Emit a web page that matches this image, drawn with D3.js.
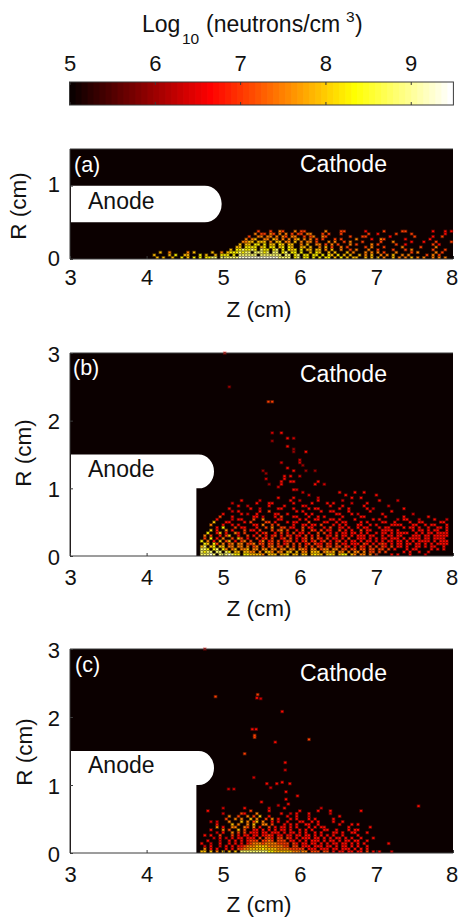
<!DOCTYPE html>
<html>
<head>
<meta charset="utf-8">
<script src="https://cdn.jsdelivr.net/npm/d3@7"></script>
<style>
body { margin: 0; background: #fff; }
svg { display: block; font-family: "Liberation Sans", Arial, sans-serif; }
</style>
</head>
<body>
<svg id="chart" width="458" height="917"></svg>
<script>
// log10 value for each digit used in the density rows below ("." = nothing there)
var heatLevels = [5, 6.0, 6.4, 6.7, 7.1, 7.5, 7.9, 8.3, 8.8, 9.3];
var colorTicks = [5, 6, 7, 8, 9];

// density rows, top row first, last row sits on R = 0
var rowsA = [
"...................................4...4..54...5.44......5....44......3.....4.....44........3...3.3..",
"..................................5.44.54.5.5.4.44.55...4.4...4........4..3.....4....4..........3....",
"................................4..55.55.5.54.55..4.45..54.......4...44.......3.......4.....3..4.....",
"...............................5.56..55.65.5.5.56.5.5.4.4...4.4....5....3..54......3.......3........",
"..............................5566.666.5.66.55.6.5.55.4...5.5..4.5...4.....4...5.....3...3...4....4..",
".............................6.66.77.7.66.76.66..5.6..55.4.5.4...5.4....5.4.....4..3........4.3......",
"............................66.7777.67.77.67.76..66.6..5.6.4..5.4.....4.5...4.....5.....4....5.......",
"..........................6.7787787.877.78.7.767.7.66.66.5.6..5..4.5...5..4....4...4.5......4...4....",
"...6..5.....5.6.....6..5.67778788.88878.88.78.77.7..6.76..6.6...6.5...5.5.5.4...5....4.5.....5.4....",
".6....6.7..66...7.6..6.777.7.888888.8888888.88.78.77.77.7.76.7.6.6..6.5.6..5.5.6..5.5.....4.5.4.....",
"..6.6..6..7.6.7.7.7788.88888899999999999998888.78.77.7.7.77.6.7.6.66..6.6.6.5..6.5.5.6.5.5..5.5.5..."
];

var rowsB = [
"........................2..3",
"",
".............................3.2",
"........................1",
"",
".............................3",
"...............................1",
"...............................1...3",
"",
"",
".................................2",
"...........................2.....2",
"..................................1",
".............................3",
".....................1.........3...1..1",
"......................1",
"............................3.3..2",
"......................2.....3",
"...........................3..33.......3",
".......................1...3..........3..2",
"..........................2",
"...............................32",
"..................................2...........3....3..3",
"....................................2...........3.........3",
"..........................3....3.......2..........3..3",
"..............3.....2.........3..2.....3.......2...........3.....2",
"...........2.......3...33......3.....3....3.3.....2....3",
".............3..2......3....3.....32.......3...3......3.......2",
"..........3......3..2.....33...3....3.33......3..3.....3.2.........3",
"...........2.3......3..4........3.3.....3..33....3......3......3",
"........3.....3.2..3.....33..3.....3.3.......33...3.2.......3.........2",
".......4...3......33.2...3.4...33...3..3.3.....3.....33......3.....3.......3",
"......3....2.33...4..5....33.....3.3..33...33.3....3.....3.3.....2.33...2....3...2",
".....6...33....3.4....44.3...3.33...4....33..3.33....3.3....33..3....3..33.....33",
"....5...3..3.3....33.5..4.4....3..33.33.4...3.3.3...33..3.3....3333...33..3.33...3",
"......3.7...4.33...3..4.5..44.33..4.33...3.4..33.3..3.33...3.33....3.33.3..3..33.3",
"....6.3..5.3...4.33.4...4.45.4..3.4..43.4.33..4.3.3..4.33...3333.3....3.33.3.33..3",
"...7..36.3..53.4...3.34..3.4.3.4.33.3..4.4.3.3.33.33.3.3..3.33.3.3333..3.3.33.3333",
"..5.4..3.46..3..4.3.4.3.34.3.43.33.4.3.4..33.4.33.3.333.33..3.33.33...333.33.33333",
"..4.7.3.5..4.64.3..4.34.4..34.4.3.34.4.43.4.33.3.4..333.3.3.33.333.3.3333.33.3333.",
".7.5.3.6.46.3.45.4..35.34.4.344.3.34.34.34.3.34.3.33.3.33.3.3.33.33.3.3.3333.3.333",
"..76.74.5.45.55.445.44.44.4.34.4.4.34.433.43.4.33.333.43.3.343.3.33.33.33.3.3.3333",
".68.67.66.55.55.5.45.4.45.44.5.4.4.4.4.44.44.44.43.3.43.4.4.43.4.33.3..33.3.33..3.",
".887.78.75.56.556.55.55.55.55.55.554.55.455.55.44.44.44.44.44.4.3...3.33....3.3.3",
".8788.88.87.66.6655.5.665.55.66.6.55.666.5656.55.5.55.5.44.4.4.....3.3..3..3.....",
".88898.8889877.7766665.666.667.66.66.6766.676.677.65.55.5.4....3.3...3....2......"
];

var rowsC = [
"........2......3.......2....3...........2",
"...3.............4.....3.........3.....3...3.........3",
"........2.....43...5.......3..2.3...3......2",
"..........5..4..5.4.6..3.....3..3...2.........3",
".........4..5.5..6.5..4.5.3...3.3...3.3.....3",
"....2.2...5...6.5.46.5..3.3..3...33..3.3....3..3",
"......3....6.5..5.6..55.4...3.3.3..33..3......3...3.3..",
"......5.3..55..54.5.3..4.3.33.3.3...3.3.33.......3......3",
"....3...5.4..6.4..33.3.3.3.33.3..3.3.3...33..3...3.33",
"......2.3..5.4.4.333.33.333.3.33.3.3..3.3...33.3..33...3",
"..3.3..4...4.3.33.33.3343.33.33.33.33.3.3.3.3..3....3",
".....2.3.2.3.33.333.4.443.44.43.3.333.33.3.3.33.3.3..3...3",
"...3...2..3.3.3.3444.4454.444.33.3.3.333.3.33.3.33.33..3",
".3..2..3..3.3.3.34555455554444.43.33.33.3.3.33.33.3.3.3.......3",
"..2.3..2.3.3.33455566665555544.44.333.333.33.3.33.3.3..3",
"..5.3.3..3.3.4455666676666555544444.333.333.33.333.3.3.3..",
".66.6.5.6.6.6.8888888887766666655555.444.44.3.33.33.33.4.3.3...2"
];

// stray cells above the rows: [z, r, level]
var outliersB = [[5.0, 2.98, 3], [5.06, 2.48, 1], [5.57, 2.26, 4], [5.62, 2.26, 4]];
var outliersC = [[4.74, 2.98, 2], [4.88, 2.28, 4], [5.43, 2.31, 4], [5.42, 2.26, 3], [5.47, 2.25, 2], [5.75, 2.06, 3],
    [5.36, 1.8, 3], [5.41, 1.8, 3], [5.39, 1.71, 4], [5.39, 1.68, 4], [5.66, 1.61, 3], [6.1, 1.65, 4], [5.26, 1.44, 4],
    [5.79, 1.31, 3], [5.79, 1.2, 2], [5.38, 1.09, 2], [5.55, 1.0, 3], [5.68, 1.0, 3], [5.75, 1.02, 3], [5.85, 1.0, 3],
    [5.6, 0.94, 2], [5.05, 0.92, 2], [5.12, 0.92, 2], [5.8, 0.88, 3], [5.95, 0.82, 3], [5.8, 0.77, 3], [5.83, 0.7, 3],
    [5.48, 0.73, 3], [5.7, 0.68, 2], [7.53, 0.67, 3]];

var panels = [
    {label: "(a)", rows: rowsA, outliers: [], rMax: 1.5, yTicks: [0, 1], top: 149, bottom: 259, z0: 4.04, dr: 0.036,
     anode: {rTop: 1, rBottom: 0.5, tipStart: 4.76, tip: 4.98, body: null},
     labelY: 172, cathodeY: 172, anodeY: 209, tickY: 285, zLabelY: 317, rLabelX: 26, rLabelY: 206, yTickDy: 6, labelX: 74},
    {label: "(b)", rows: rowsB, outliers: outliersB, rMax: 3, yTicks: [0, 1, 2, 3], top: 353, bottom: 556, z0: 4.66, dr: 0.04,
     anode: {rTop: 1.5, rBottom: 1, tipStart: 4.68, tip: 4.88, body: 4.65},
     labelY: 375, cathodeY: 382, anodeY: 477, tickY: 585, zLabelY: 616, rLabelX: 31, rLabelY: 453, yTickDy: 8, labelX: 73},
    {label: "(c)", rows: rowsC, outliers: outliersC, rMax: 3, yTicks: [0, 1, 2, 3], top: 649, bottom: 853, z0: 4.66, dr: 0.04,
     anode: {rTop: 1.5, rBottom: 1, tipStart: 4.68, tip: 4.88, body: 4.65},
     labelY: 672, cathodeY: 681, anodeY: 773, tickY: 882, zLabelY: 912, rLabelX: 32, rLabelY: 752, yTickDy: 8, labelX: 75}
];

var svg = d3.select("#chart");
var root = svg.append("g");

// matlab style "hot" map over the colorbar range, 64 steps
var hot = d3.scaleLinear()
    .domain([5, 6.6875, 8.375, 9.5])
    .range(["#000000", "#ff0000", "#ffff00", "#ffffff"])
    .clamp(true);
var steps = 64;
var colorStep = d3.scaleQuantize().domain([5, 9.5]).range(d3.range(steps).map(function(i) {
    return hot(5 + (i + 1) / steps * 4.5);
}));

var zLeft = 70, zRight = 453, axisColor = "#3a3a3a", fontSize = 22.5, tickFont = 22;

function styleAxis(g) {
    g.select(".domain").remove();
    g.selectAll("line").attr("stroke", axisColor);
    g.selectAll("text").attr("font-size", tickFont).attr("font-family", "Liberation Sans").attr("fill", "#111");
}

function makeColorbar() {
    var x = d3.scaleLinear().domain([5, 9.5]).range([69.5, 453.4]);
    var top = 82, bottom = 105;
    var bar = root.append("g");
    bar.selectAll("rect").data(colorStep.range()).enter().append("rect")
        .attr("x", function(d, i) { return x(5 + i / steps * 4.5); })
        .attr("y", top)
        .attr("width", (x(9.5) - x(5)) / steps + 0.5)
        .attr("height", bottom - top)
        .attr("fill", function(d) { return d; });
    bar.append("rect").attr("x", x(5)).attr("y", top).attr("width", x(9.5) - x(5)).attr("height", bottom - top)
        .attr("fill", "none").attr("stroke", axisColor);

    var ticks = d3.axisTop(x).tickValues(colorTicks).tickFormat(d3.format("d")).tickSizeInner(-3).tickSizeOuter(0);
    var g = root.append("g").attr("transform", "translate(0," + top + ")").call(ticks).call(styleAxis);
    g.selectAll("text").attr("y", -11).attr("dy", 0);
    root.append("g").attr("transform", "translate(0," + bottom + ")")
        .call(d3.axisBottom(x).tickValues(colorTicks).tickFormat("").tickSizeInner(-3).tickSizeOuter(0))
        .call(styleAxis);

    var title = root.append("g").attr("fill", "#111");
    title.append("text").attr("x", 142).attr("y", 32).attr("font-size", 23).text("Log");
    title.append("text").attr("x", 182).attr("y", 44).attr("font-size", 15.5).text("10");
    title.append("text").attr("x", 206).attr("y", 32).attr("font-size", 23).text("(neutrons/cm");
    title.append("text").attr("x", 346).attr("y", 22).attr("font-size", 15.5).text("3");
    title.append("text").attr("x", 355).attr("y", 32).attr("font-size", 23).text(")");
}

function cellsFor(p) {
    var cells = [], dz = 0.04, n = p.rows.length;
    p.rows.forEach(function(row, i) {
        row.split("").forEach(function(ch, col) {
            if (ch === ".") return;
            cells.push({z: p.z0 + col * dz, r: (n - 1 - i) * p.dr, level: +ch, w: dz, h: p.dr});
        });
    });
    p.outliers.forEach(function(o) {
        cells.push({z: o[0], r: o[1], level: o[2], w: dz, h: p.dr});
    });
    return cells;
}

function anodePath(p, x, y) {
    var a = p.anode;
    var rx = x(a.tip) - x(a.tipStart), ry = (y(a.rBottom) - y(a.rTop)) / 2;
    var path = "M" + (zLeft + 1) + "," + y(a.rTop) + "L" + x(a.tipStart) + "," + y(a.rTop);
    path += "A" + rx + "," + ry + " 0 0 1 " + x(a.tipStart) + "," + y(a.rBottom);
    if (a.body !== null) {
        path += "L" + x(a.body) + "," + y(a.rBottom) + "L" + x(a.body) + "," + y(0) + "L" + (zLeft + 1) + "," + y(0) + "Z";
    } else {
        path += "L" + (zLeft + 1) + "," + y(a.rBottom) + "Z";
    }
    return path;
}

// no blur available, so each cell is a faint full-size rect with a small solid core inside it
function drawCells(heat, cells, x, y, inset, opacity) {
    heat.append("g").selectAll("rect").data(cells).enter().append("rect")
        .attr("x", function(d) { return x(d.z) + inset; })
        .attr("y", function(d) { return y(d.r + d.h) + inset; })
        .attr("width", function(d) { return x(d.z + d.w) - x(d.z) - 2 * inset; })
        .attr("height", function(d) { return y(d.r) - y(d.r + d.h) - 2 * inset; })
        .attr("fill", function(d) { return colorStep(heatLevels[d.level]); })
        .attr("opacity", opacity);
}

function makePanel(p) {
    var x = d3.scaleLinear().domain([3, 8]).range([zLeft, zRight]);
    var y = d3.scaleLinear().domain([0, p.rMax]).range([p.bottom, p.top]);
    var g = root.append("g");

    g.append("rect").attr("x", zLeft).attr("y", p.top).attr("width", zRight - zLeft).attr("height", p.bottom - p.top)
        .attr("fill", colorStep(5));

    var heat = g.append("g");
    var cells = cellsFor(p);
    drawCells(heat, cells, x, y, -0.3, 0.35);
    drawCells(heat, cells, x, y, 0.5, 1);

    g.append("path").attr("d", anodePath(p, x, y)).attr("fill", "#fff");

    // frame: left, top and bottom show, right edge falls on black
    g.append("path").attr("d", "M" + zRight + "," + p.top + "H" + zLeft + "V" + p.bottom + "H" + zRight)
        .attr("fill", "none").attr("stroke", axisColor);

    var xAxis = g.append("g").attr("transform", "translate(0," + p.bottom + ")")
        .call(d3.axisBottom(x).tickValues([3, 4, 5, 6, 7, 8]).tickFormat(d3.format("d")).tickSizeInner(-3).tickSizeOuter(0))
        .call(styleAxis);
    xAxis.selectAll("text").attr("y", p.tickY - p.bottom).attr("dy", 0);
    // last label sits right on the page edge
    xAxis.selectAll("text").filter(function(d) { return d === 8; }).attr("x", -1.5);

    var yAxis = g.append("g").attr("transform", "translate(" + zLeft + ",0)")
        .call(d3.axisLeft(y).tickValues(p.yTicks).tickFormat(d3.format("d")).tickSizeInner(-3).tickSizeOuter(0))
        .call(styleAxis);
    yAxis.selectAll("text").attr("x", -10).attr("dy", 0).attr("y", p.yTickDy);

    g.append("text").attr("x", 259).attr("y", p.zLabelY).attr("text-anchor", "middle")
        .attr("font-size", fontSize).attr("fill", "#111").text("Z (cm)");
    g.append("text").attr("transform", "translate(" + p.rLabelX + "," + p.rLabelY + ") rotate(-90)")
        .attr("text-anchor", "middle").attr("font-size", fontSize).attr("fill", "#111").text("R (cm)");

    g.append("text").attr("x", p.labelX).attr("y", p.labelY).attr("font-size", 21.5).attr("fill", "#fff").text(p.label);
    g.append("text").attr("x", 300).attr("y", p.cathodeY).attr("font-size", 23).attr("fill", "#fff").text("Cathode");
    g.append("text").attr("x", 88).attr("y", p.anodeY).attr("font-size", 23).attr("fill", "#111").text("Anode");
}

makeColorbar();
panels.forEach(makePanel);
</script>
</body>
</html>
